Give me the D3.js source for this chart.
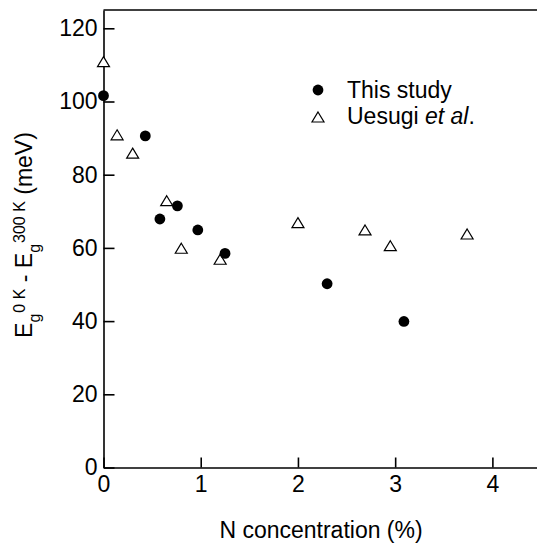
<!DOCTYPE html>
<html>
<head>
    <title>Band gap shift vs N concentration</title>
    <script src="https://d3js.org/d3.v7.min.js"></script>
    <style>
        body { margin: 0; background: #fff; }
        svg { display: block; font-family: "Liberation Sans", Arial, Helvetica, sans-serif; }
        .axis path, .axis line { stroke: #000; stroke-width: 1.6; }
        .axis text { font-size: 23px; fill: #000; }
    </style>
</head>
<body>
    <svg width="537" height="545"></svg>
    <script>
        // This study (filled circles)
        var studyN   = [0, 0.43, 0.58, 0.76, 0.97, 1.25, 2.30, 3.09];
        var studyE   = [101.6, 90.6, 67.9, 71.5, 64.9, 58.5, 50.2, 39.9];

        // Uesugi et al. (open triangles)
        var uesugiN  = [0, 0.14, 0.30, 0.65, 0.80, 1.20, 2.00, 2.69, 2.95, 3.74];
        var uesugiE  = [110.9, 90.9, 85.9, 72.9, 59.9, 56.9, 66.9, 64.9, 60.6, 63.8];

        var xTicks = [0, 1, 2, 3, 4];
        var yTicks = [0, 20, 40, 60, 80, 100, 120];

        var svg = d3.select("svg");

        // scales
        var x = d3.scaleLinear().domain([0, 4.5]).range([103.5, 541]);
        var y = d3.scaleLinear().domain([0, 125]).range([467.5, 10]);

        // top frame line
        svg.append("line")
            .attr("x1", x(0)).attr("x2", x(4.5))
            .attr("y1", y(125)).attr("y2", y(125))
            .attr("stroke", "#000").attr("stroke-width", 1.6);

        // X axis, ticks pointing inward
        svg.append("g")
            .attr("class", "axis")
            .attr("transform", "translate(0," + y(0) + ")")
            .call(d3.axisBottom(x).tickValues(xTicks).tickFormat(d3.format("d"))
                .tickSizeInner(-10).tickSizeOuter(0).tickPadding(8));

        // Y axis
        svg.append("g")
            .attr("class", "axis")
            .attr("transform", "translate(" + x(0) + ",0)")
            .call(d3.axisLeft(y).tickValues(yTicks).tickFormat(d3.format("d"))
                .tickSizeInner(-11).tickSizeOuter(0).tickPadding(6));

        // x label
        svg.append("text")
            .attr("x", 321)
            .attr("y", 538)
            .attr("text-anchor", "middle")
            .style("font-size", "23px")
            .text("N concentration (%)");

        // y label with sub/superscripts
        var yl = svg.append("text")
            .attr("transform", "translate(32,235) rotate(-90)")
            .attr("text-anchor", "middle")
            .style("font-size", "23px");
        yl.append("tspan").text("E");
        yl.append("tspan").attr("dy", 8).style("font-size", "16px").text("g");
        yl.append("tspan").attr("dy", -15).attr("dx", 1).style("font-size", "16px").text("0 K");
        yl.append("tspan").attr("dy", 7).text(" - E");
        yl.append("tspan").attr("dy", 8).style("font-size", "16px").text("g");
        yl.append("tspan").attr("dy", -15).attr("dx", 1).style("font-size", "16px").text("300 K");
        yl.append("tspan").attr("dy", 7).text(" (meV)");

        var tri = "M0,-5L6,5L-6,5Z";

        // Uesugi triangles
        svg.append("g").selectAll("path")
            .data(d3.range(uesugiN.length))
            .enter().append("path")
            .attr("d", tri)
            .attr("transform", function(i) { return "translate(" + x(uesugiN[i]) + "," + y(uesugiE[i]) + ")"; })
            .attr("fill", "#fff")
            .attr("stroke", "#000")
            .attr("stroke-width", 1.2);

        // this study circles
        svg.append("g").selectAll("circle")
            .data(d3.range(studyN.length))
            .enter().append("circle")
            .attr("cx", function(i) { return x(studyN[i]); })
            .attr("cy", function(i) { return y(studyE[i]); })
            .attr("r", 5.4)
            .attr("fill", "#000");

        // legend
        var lg = svg.append("g");
        lg.append("circle").attr("cx", 318).attr("cy", 90).attr("r", 5.4).attr("fill", "#000");
        lg.append("text").attr("x", 347).attr("y", 98).style("font-size", "23px").text("This study");
        lg.append("path").attr("d", tri)
            .attr("transform", "translate(318,117)")
            .attr("fill", "#fff").attr("stroke", "#000").attr("stroke-width", 1.2);
        var t2 = lg.append("text").attr("x", 347).attr("y", 124).style("font-size", "23px");
        t2.append("tspan").text("Uesugi ");
        t2.append("tspan").style("font-style", "italic").text("et al");
        t2.append("tspan").text(".");
    </script>
</body>
</html>
